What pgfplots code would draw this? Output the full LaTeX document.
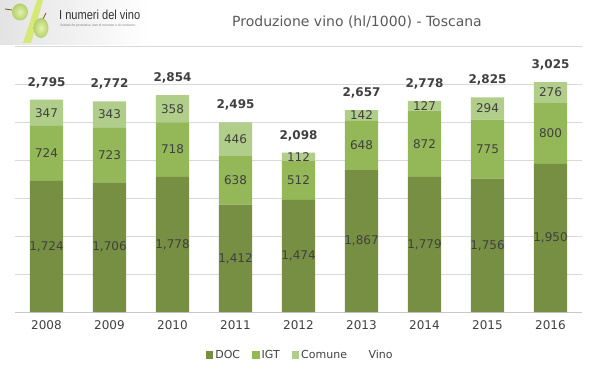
\documentclass[border=0pt]{standalone}
\usepackage{pgfplots}
\pgfplotsset{compat=1.18}
\usepackage{pgfplotstable}
\usepackage{fontspec}
\setmainfont{DejaVu Sans}
\newfontfamily\logofont{Liberation Sans}
\definecolor{cdoc}{RGB}{119,143,66}
\definecolor{cigt}{RGB}{148,183,88}
\definecolor{ccom}{RGB}{177,205,138}
\definecolor{lbl}{RGB}{64,64,64}
\definecolor{gridc}{RGB}{217,217,217}
\definecolor{titlec}{RGB}{89,89,89}
\definecolor{grapein}{RGB}{228,242,175}
\definecolor{grapeout}{RGB}{178,208,105}
\definecolor{stem}{RGB}{120,80,40}
\pgfplotstableread{
x year doc igt com tot
0 2008 1724 724 347 2795
1 2009 1706 723 343 2772
2 2010 1778 718 358 2854
3 2011 1412 638 446 2495
4 2012 1474 512 112 2098
5 2013 1867 648 142 2657
6 2014 1779 872 127 2778
7 2015 1756 775 294 2825
8 2016 1950 800 276 3025
}\data
\begin{document}
\begin{tikzpicture}[x=1pt,y=1pt]
\path (0,0) rectangle (599,378);
% logo
\shade[left color=gray!22, right color=white] (0,333) rectangle (150,378);
\fill[color={rgb,255:red,214;green,232;blue,120}] (37,378) -- (43,378) -- (31,335) -- (23,335) -- cycle;
\draw[stem, line width=0.8] (12,368) -- (5,369);
\draw[stem, line width=0.8] (43,359) -- (46,365);
\shade[inner color=grapein, outer color=grapeout] (20,366) ellipse (8 and 8.5);
\shade[inner color=grapein, outer color=grapeout] (41,350) ellipse (7.5 and 10);
\node[anchor=west, inner sep=0, xscale=0.85, font=\logofont\fontsize{13}{13}\selectfont, text={rgb,255:red,50;green,50;blue,50}] at (59,363) {I numeri del vino};
\node[anchor=west, inner sep=0, font=\logofont\fontsize{3.3}{4}\selectfont, text=gray] at (60,352) {Statistiche produttive, dati di mercato e di consumo.};
% title
\node[font=\fontsize{14}{16}\selectfont, text=titlec] at (357,356) {Produzione vino (hl/1000) - Toscana};
\pgfplotsset{base/.style={at={(15pt,66pt)}, anchor=south west, scale only axis, width=567pt, height=266pt, xmin=-0.5, xmax=8.5, ymin=0, ymax=3500}}
\begin{axis}[base,
  ybar stacked, bar width=33pt,
  axis line style={draw=none},
  ytick={0,500,...,3500}, yticklabels={},
  ymajorgrids, major grid style={gridc, line width=0.8pt},
  tick style={draw=none},
  xtick=data, xticklabels from table={\data}{year},
  xticklabel style={font=\fontsize{12}{12}\selectfont, text=lbl, yshift=-5pt},
  legend image code/.code={\fill[#1, draw=none] (0pt,-3.7pt) rectangle (7.5pt,3.7pt);},
  legend style={at={(0.503,-0.162)}, anchor=center, draw=none, fill=none,
    legend columns=4, font=\fontsize{11}{11}\selectfont, text=lbl,
    /tikz/every even column/.append style={column sep=10pt}},
]
\addplot[fill=cdoc, draw=none] table[x=x, y=doc] {\data};
\addplot[fill=cigt, draw=none] table[x=x, y=igt] {\data};
\addplot[fill=ccom, draw=none] table[x=x, y=com] {\data};
\addlegendentry{DOC}
\addlegendentry{IGT}
\addlegendentry{Comune}
\addlegendimage{fill=white, draw=none}
\addlegendentry{Vino}
\draw[color={rgb,255:red,200;green,200;blue,200}, line width=0.9pt] (axis cs:-0.5,0) -- (axis cs:8.5,0);
\end{axis}
\begin{axis}[base, hide axis, clip=false,
  /pgf/number format/.cd, 1000 sep={,}, assume math mode=true, /pgfplots/.cd]
\addplot[draw=none, mark=none, nodes near coords, point meta=explicit,
  every node near coord/.append style={anchor=center, font=\fontsize{12}{12}\selectfont, text=lbl}]
  table[x=x, y expr=\thisrow{doc}/2, meta=doc] {\data};
\addplot[draw=none, mark=none, nodes near coords, point meta=explicit,
  every node near coord/.append style={anchor=center, font=\fontsize{12}{12}\selectfont, text=lbl}]
  table[x=x, y expr=\thisrow{doc}+\thisrow{igt}/2, meta=igt] {\data};
\addplot[draw=none, mark=none, nodes near coords, point meta=explicit,
  every node near coord/.append style={anchor=center, font=\fontsize{12}{12}\selectfont, text=lbl}]
  table[x=x, y expr=\thisrow{doc}+\thisrow{igt}+\thisrow{com}/2, meta=com] {\data};
\addplot[draw=none, mark=none, nodes near coords, point meta=explicit,
  every node near coord/.append style={anchor=center, yshift=17pt, font=\bfseries\fontsize{12}{12}\selectfont, text=lbl}]
  table[x=x, y=tot, meta=tot] {\data};
\end{axis}
\end{tikzpicture}
\end{document}
